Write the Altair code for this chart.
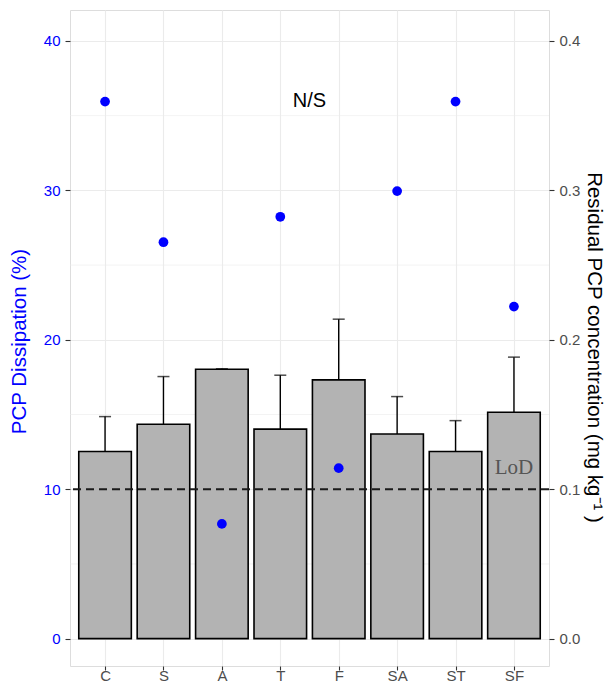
import json
import altair as alt
import pandas as pd

# ---- data ----
categories = ["C", "S", "A", "T", "F", "SA", "ST", "SF"]
positions = [1, 2, 3, 4, 5, 6, 7, 8]
residual = [0.1252, 0.1435, 0.1803, 0.1402, 0.1732, 0.1370, 0.1252, 0.1515]
residual_upper = [0.1486, 0.1754, 0.1806, 0.1763, 0.2138, 0.1620, 0.1459, 0.1884]
dissipation = [35.94, 26.53, 7.68, 28.23, 11.41, 29.95, 35.94, 22.22]
lod_value = [0.1]
lod_label = ["LoD"]
lod_label_pos = [8]
lod_label_y = [0.1143]
ns_label = ["N/S"]
ns_pos = [4.5]
ns_y = [36.0]
left_ticks = [0, 10, 20, 30, 40]
right_ticks = [0.0, 0.1, 0.2, 0.3, 0.4]
minor_right_grid = [0.05, 0.15, 0.25, 0.35]
left_domain = [-1.83, 42.07]
right_domain = [-0.0183, 0.4207]

df = pd.DataFrame({
    "cat": categories,
    "pos": positions,
    "residual": residual,
    "upper": residual_upper,
    "dissipation": dissipation,
})
lod_df = pd.DataFrame({"y": lod_value})
lod_text_df = pd.DataFrame({"pos": lod_label_pos, "y": lod_label_y, "label": lod_label})
ns_df = pd.DataFrame({"pos": ns_pos, "y": ns_y, "label": ns_label})
minor_df = pd.DataFrame({"y": minor_right_grid})

FONT = "Liberation Sans"
GRID = "#EBEBEB"
DARK = "#333333"
LABEL = "#4D4D4D"

x_scale = alt.Scale(domain=[0.4, 8.6], nice=False, zero=False)
x_axis = alt.Axis(
    values=positions,
    labelExpr=json.dumps(categories) + "[datum.value - 1]",
    grid=True, gridColor=GRID, gridWidth=1.1,
    domain=False, tickColor=DARK, tickSize=4, tickWidth=1.1,
    labelColor=LABEL, labelFontSize=15, labelPadding=10, labelFont=FONT,
    labelBaseline="alphabetic",
    title=None,
)

right_scale = alt.Scale(domain=right_domain, nice=False, zero=False)
right_axis = alt.Axis(
    orient="right", values=right_ticks, format=".1f",
    grid=True, gridColor=GRID, gridWidth=1.1,
    domain=False, tickColor=DARK, tickSize=5, tickWidth=1.1,
    labelColor=LABEL, labelFontSize=15, labelPadding=5, labelFont=FONT,
    title="Residual PCP concentration (mg kg\u207b\u00b9 )",
    titleFont=FONT, titleFontSize=20.5, titleFontWeight="normal", titleColor="black",
    titleAngle=90, titleBaseline="alphabetic", titleAlign="center",
    titleX=38, titleY=337,
)

left_scale = alt.Scale(domain=left_domain, nice=False, zero=False)
left_axis = alt.Axis(
    orient="left", values=left_ticks,
    grid=False,
    domain=False, tickColor=DARK, tickSize=5, tickWidth=1.1,
    labelColor="#0000FF", labelFontSize=15, labelPadding=5, labelFont=FONT,
    title="PCP Dissipation (%)",
    titleFont=FONT, titleFontSize=20.5, titleFontWeight="normal", titleColor="#0000FF",
    titleAngle=270, titleBaseline="alphabetic", titleAlign="center",
    titleX=-45, titleY=331,
)

X = lambda f: alt.X(f, type="quantitative", scale=x_scale, axis=x_axis)
YR = lambda f: alt.Y(f, type="quantitative", scale=right_scale, axis=right_axis)
YL = lambda f: alt.Y(f, type="quantitative", scale=left_scale, axis=left_axis)

minor = alt.Chart(minor_df).mark_rule(color=GRID, strokeWidth=0.6).encode(y=YR("y"))

bars = alt.Chart(df).transform_calculate(
    x0="datum.pos - 0.45", x1="datum.pos + 0.45"
).mark_bar(fill="#B3B3B3", stroke="black", strokeWidth=1.6).encode(
    x=X("x0"), x2="x1", y=YR("residual"), y2=alt.datum(0)
)

err = alt.Chart(df).mark_rule(color="black", strokeWidth=1.4).encode(
    x=X("pos"), y=YR("residual"), y2="upper"
)
caps = alt.Chart(df).mark_tick(color="black", orient="horizontal", size=12, thickness=1.5).encode(
    x=X("pos"), y=YR("upper")
)
lod_rule = alt.Chart(lod_df).mark_rule(color="#1a1a1a", strokeWidth=2, strokeDash=[8, 5]).encode(
    y=YR("y")
)
lod_text = alt.Chart(lod_text_df).mark_text(
    font="Liberation Serif", fontSize=21, color="#555555", baseline="middle"
).encode(x=X("pos"), y=YR("y"), text="label")

right_layer = alt.layer(minor, bars, err, caps, lod_rule, lod_text)

points = alt.Chart(df).mark_point(filled=True, color="#0000FF", size=95, opacity=1).encode(
    x=X("pos"), y=YL("dissipation")
)
ns_text = alt.Chart(ns_df).mark_text(font=FONT, fontSize=20, color="black", baseline="middle").encode(
    x=X("pos"), y=YL("y"), text="label"
)
left_layer = alt.layer(points, ns_text)

chart = alt.layer(right_layer, left_layer).resolve_scale(y="independent").properties(
    width=479, height=656,
    autosize=alt.AutoSizeParams(type="none"),
    padding={"left": 62, "top": 2, "right": 58, "bottom": 17},
).configure_view(stroke=DARK, strokeWidth=1.1).configure(background="white")

chart.save("out.html", embed_options={"renderer": "svg", "actions": False})
